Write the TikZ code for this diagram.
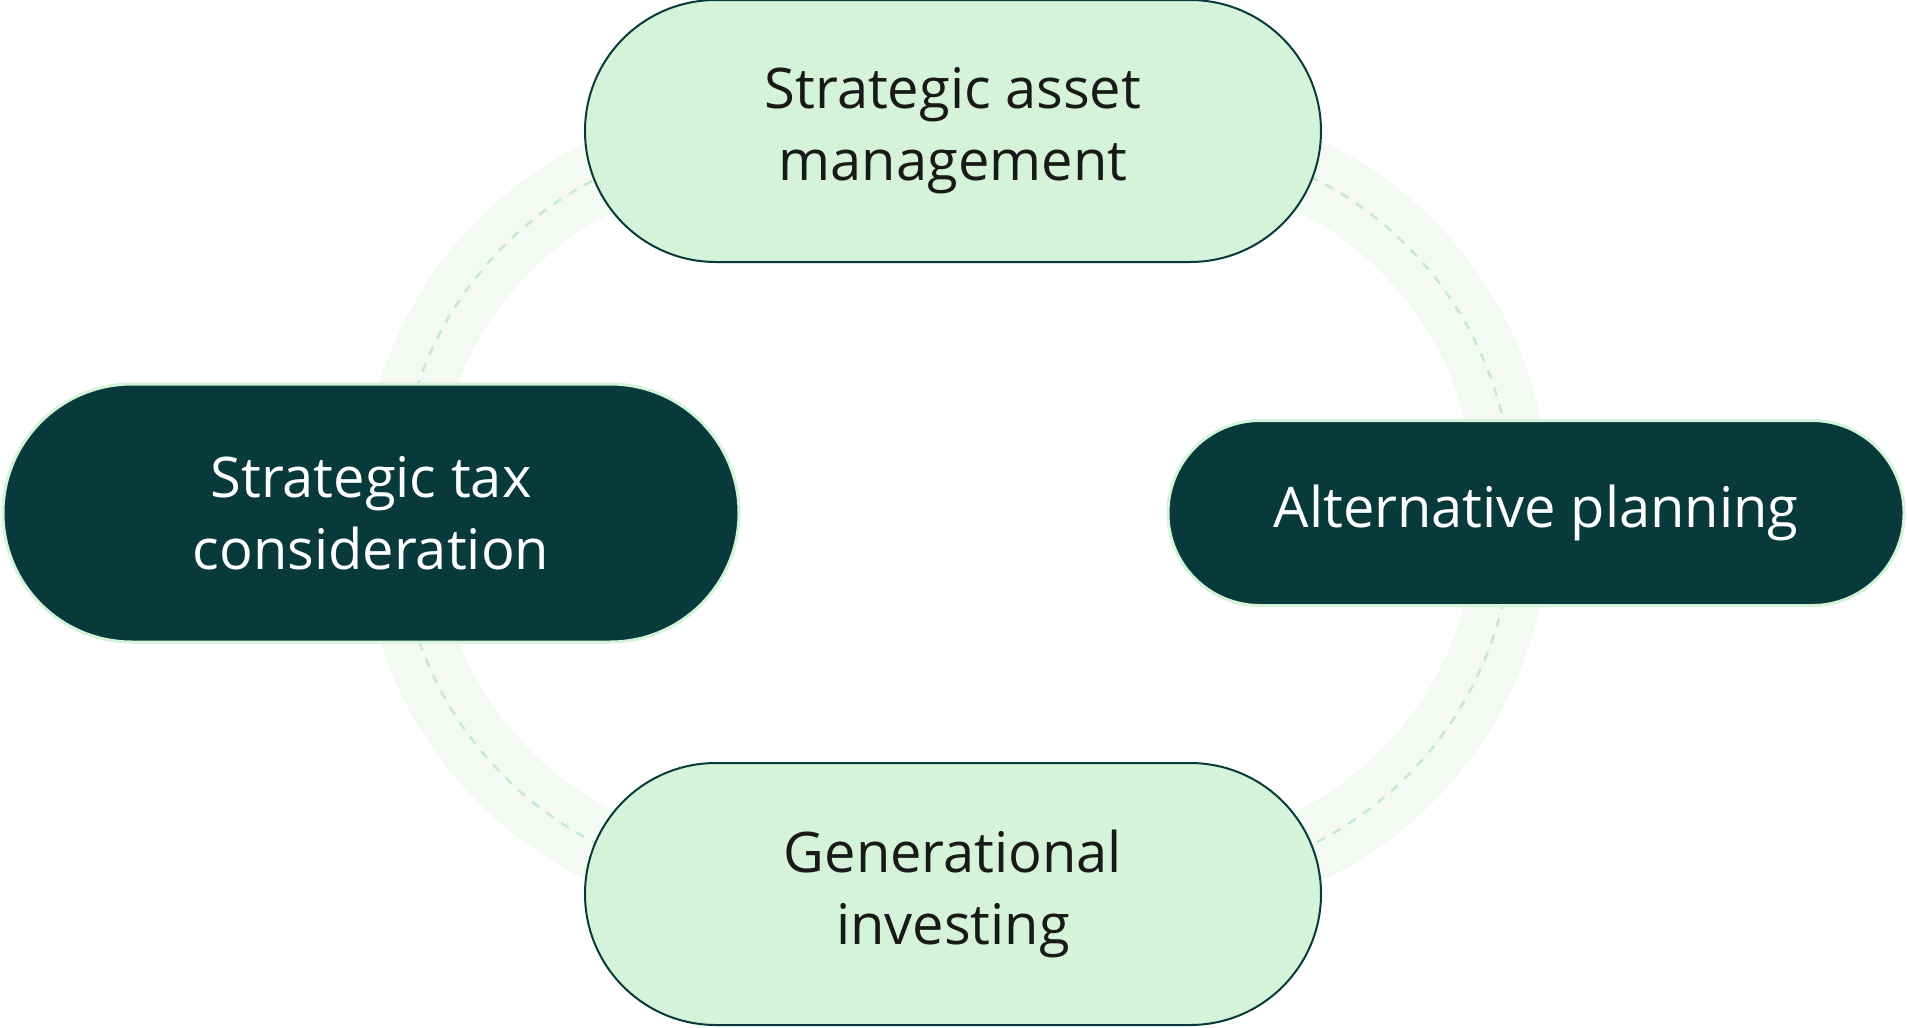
\documentclass[tikz,border=0pt]{standalone}
\usepackage{fontspec}
\setmainfont{Open Sans}
\usetikzlibrary{positioning}
\definecolor{darkteal}{HTML}{083A3C}
\definecolor{mint}{HTML}{D4F3D8}
\definecolor{ringband}{HTML}{F4FAF3}
\definecolor{ringdash}{HTML}{C6EBCB}
\tikzset{
    pill/.style={rectangle, align=center, minimum width=736pt, font=\fontsize{56}{72}\selectfont, inner sep=0pt},
    lightpill/.style={pill, draw=darkteal, line width=2pt, fill=mint, text=black!90, minimum height=262pt, rounded corners=131pt},
    darkpill/.style={pill, draw=mint, line width=3pt, fill=darkteal, text=white}
}
\begin{document}
\begin{tikzpicture}[x=1pt, y=-1pt]
\useasboundingbox (0,0) rectangle (1907,1028);

% Ring behind the pills
\draw[ringband, line width=74pt, rounded corners=360pt] (399,140) rectangle (1512,882);
\draw[ringdash, line width=2.5pt, dash pattern=on 9pt off 9pt, rounded corners=360pt] (399,140) rectangle (1512,882);

% Pills
\node[lightpill] (asset) at (953,131) {Strategic asset\\management};
\node[lightpill] (generational) at (953,894) {Generational\\investing};
\node[darkpill, minimum height=258pt, rounded corners=129pt] (tax) at (371,513) {Strategic tax\\consideration};
\node[darkpill, minimum height=185pt, rounded corners=92pt] (alternative) at (1536,513) {Alternative planning};

\end{tikzpicture}
\end{document}
